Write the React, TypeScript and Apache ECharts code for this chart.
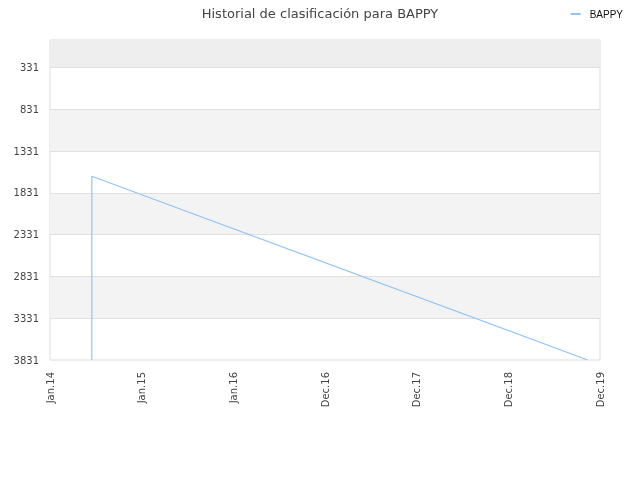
import React, { useEffect, useRef } from 'react'
import * as echarts from 'echarts'

const title = 'Historial de clasificación para BAPPY'
const seriesName = 'BAPPY'

// ranking history (dates, positions)
const dates = ['2014-07-12', '2014-07-12', '2019-10-15']
const ranks = [3831, 1631, 3831]

const yTicks = [331, 831, 1331, 1831, 2331, 2831, 3331, 3831]
const xTickLabels = ['Jan.14', 'Jan.15', 'Jan.16', 'Dec.16', 'Dec.17', 'Dec.18', 'Dec.19']

const AXIS_START = Date.UTC(2014, 0, 31)
const DAY = 86400000
const STEP = 355.15 // days between x ticks

const App: React.FC = () => {
  const chartRef = useRef<HTMLDivElement>(null)

  useEffect(() => {
    if (!chartRef.current) return
    const chart = echarts.init(chartRef.current, undefined, { renderer: 'svg' })

    const points = dates.map((d, i) => {
      const t = Date.parse(d + 'T00:00:00Z')
      return [(t - AXIS_START) / DAY, ranks[i]]
    })

    // alternating bands between ticks
    const bands: any[] = []
    for (let i = 0; i < yTicks.length - 1; i++) {
      if (i % 2 === 1) bands.push([{ yAxis: yTicks[i] }, { yAxis: yTicks[i + 1] }])
    }
    bands.push([{ yAxis: 0, itemStyle: { color: '#eeeeee' } }, { yAxis: yTicks[0] }])

    const option: echarts.EChartsOption = {
      animation: false,
      title: {
        text: title,
        left: 'center',
        top: 2,
        textStyle: { fontFamily: 'DejaVu Sans', fontSize: 13, fontWeight: 'normal', color: '#444' }
      },
      legend: {
        right: 12,
        top: 4,
        itemWidth: 10,
        itemHeight: 2,
        itemGap: 10,
        icon: 'rect',
        textStyle: { fontFamily: 'Liberation Sans', fontSize: 10, color: '#111', padding: [0, 0, 0, 4] },
        data: [seriesName]
      },
      grid: {
        left: 50,
        right: 40,
        top: 40,
        bottom: 120,
        show: true,
        borderColor: '#dddddd',
        borderWidth: 1,
        backgroundColor: '#ffffff'
      },
      xAxis: {
        type: 'value',
        min: 0,
        max: STEP * 6,
        interval: STEP,
        axisLine: { show: true, lineStyle: { color: '#dddddd' } },
        axisTick: { show: false },
        splitLine: { show: false },
        axisLabel: {
          rotate: 90,
          margin: 12,
          fontFamily: 'DejaVu Sans',
          fontSize: 10,
          color: '#444',
          formatter: (v: number) => xTickLabels[Math.round(v / STEP)] ?? ''
        }
      },
      yAxis: {
        type: 'value',
        inverse: true,
        min: 0,
        max: 3831,
        axisLine: { show: false },
        axisTick: { show: false, customValues: yTicks },
        splitLine: { show: false },
        axisLabel: {
          customValues: yTicks,
          margin: 11,
          fontFamily: 'DejaVu Sans',
          fontSize: 10,
          color: '#444',
          formatter: (v: number) => String(v)
        }
      },
      series: [
        {
          name: seriesName,
          type: 'line',
          data: points,
          showSymbol: false,
          symbol: 'none',
          lineStyle: { color: '#93c5f4', width: 1.2 },
          itemStyle: { color: '#93c5f4' },
          z: 5,
          markArea: {
            silent: true,
            itemStyle: { color: '#f3f3f3' },
            data: bands
          },
          markLine: {
            silent: true,
            symbol: 'none',
            label: { show: false },
            lineStyle: { color: '#e0e0e0', type: 'solid', width: 1 },
            data: yTicks.slice(0, -1).map((v) => ({ yAxis: v }))
          }
        }
      ]
    }

    chart.setOption(option)
    return () => chart.dispose()
  }, [])

  return (
    <div
      ref={chartRef}
      style={{ position: 'fixed', left: 0, top: 0, width: 640, height: 480 }}
    />
  )
}

export default App
